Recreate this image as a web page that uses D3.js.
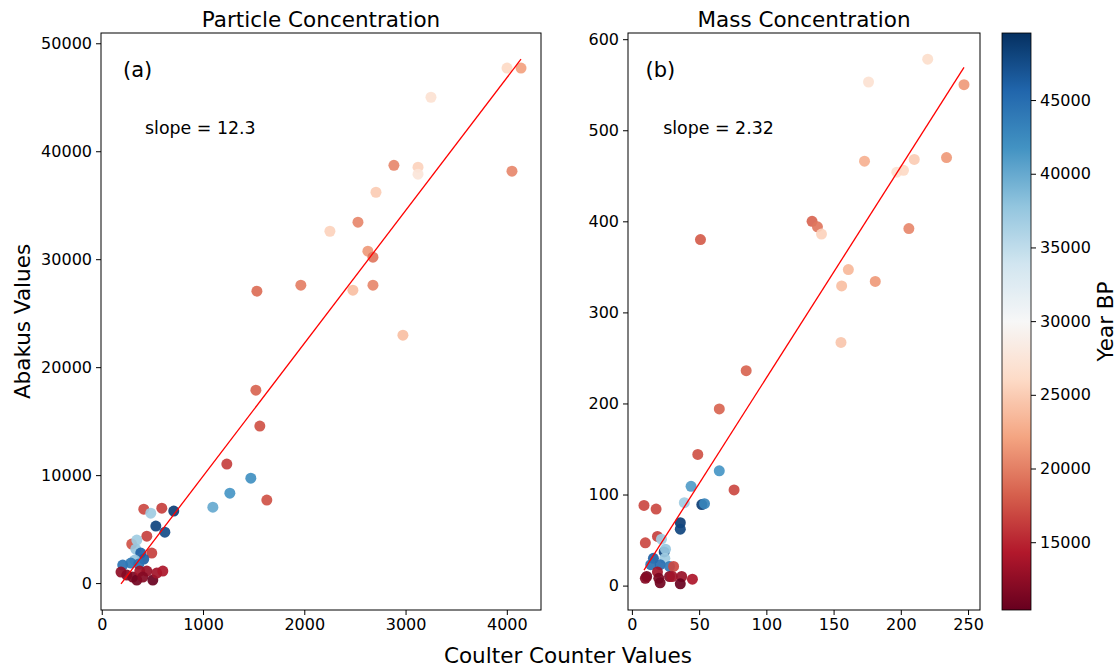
<!DOCTYPE html>
<html>
<head>
<meta charset="utf-8">
<script src="https://cdn.jsdelivr.net/npm/d3@7"></script>
<style>
  html, body { margin: 0; padding: 0; background: #fff; }
  svg { display: block; font-family: "DejaVu Sans", sans-serif; }
</style>
</head>
<body>
<svg id="chart" width="1119" height="671"></svg>
<script>
// Particle concentration: Coulter counter vs Abakus, with sample age (Year BP)
const particleCoulter = [4002, 4140, 3251, 2885, 3123, 3123, 4051, 2708, 2530, 2253, 2628, 2678,
  1532, 1966, 2480, 2678, 2974, 1522, 1561, 1235, 1472, 1265, 1630, 1097, 711, 593, 415, 484,
  534, 623, 445, 296, 346, 336, 385, 494, 415, 326, 207, 287, 366, 190, 247, 306, 346, 375,
  445, 405, 504, 543, 603];
const particleAbakus = [47700, 47700, 45000, 38700, 38520, 37870, 38150, 36200, 33430, 32590, 30740, 30190,
  27040, 27590, 27130, 27590, 22960, 17870, 14540, 11020, 9720, 8330, 7690, 7030, 6670, 6940, 6850, 6480,
  5280, 4720, 4350, 3610, 3980, 3150, 2780, 2780, 2220, 2130, 1670, 1850, 1760, 1020, 740, 560, 280, 1110,
  1110, 560, 280, 930, 1110];
const particleYear = [26000, 22000, 27000, 20500, 25500, 27500, 20500, 25000, 20500, 25500, 21500, 19500,
  19000, 20000, 24000, 20500, 24000, 18500, 17500, 16500, 42000, 41500, 17500, 40000, 48500, 16500, 17000, 37000,
  48000, 47500, 16500, 17500, 37000, 37500, 46000, 16500, 46000, 37500, 44500, 44000, 44500, 12500, 12000, 11500, 11000, 13500,
  13000, 12000, 10500, 13500, 14000];

// Mass concentration
const massCoulter = [220, 176, 247, 173, 197, 202, 210, 234, 134, 138, 141, 206, 51, 161, 156, 181,
  155.5, 85, 65, 49, 65, 44, 76, 9, 18, 39, 52, 54, 36, 36, 19, 10, 22, 24, 25, 24.5, 16, 14, 21,
  28, 31, 11, 10, 19, 20, 21, 28, 30, 37, 36, 45];
const massAbakus = [578, 553, 550, 466, 454, 456, 468, 470, 400, 394, 386, 392, 380, 347, 329, 334,
  267, 236, 194, 144, 126, 109, 105, 88, 84, 91, 89, 90, 69, 62, 54, 47, 51, 37, 40, 30, 30, 23, 23,
  21, 21, 10, 8, 15, 8, 3, 10, 10, 10, 2, 7];
const massYear = [26500, 27000, 21500, 23000, 27000, 26000, 25000, 21500, 18500, 19500, 25500, 20500, 18000, 23500, 24000, 21500,
  24500, 18500, 18500, 17500, 41500, 41000, 17000, 17000, 17000, 37000, 48500, 43000, 48500, 48000, 16500, 17000, 37000, 48000, 37500, 37000, 46000, 44500, 45000,
  44000, 17000, 11000, 12000, 13500, 11500, 11000, 12000, 13500, 13000, 10500, 14000];

// Least-squares fit lines
const fitSlope = [12.3, 2.32];
const fitIntercept = [-2400, -4];
const slopeLabels = ["slope = 12.3", "slope = 2.32"];
const panelLetters = ["(a)", "(b)"];
const panelTitles = ["Particle Concentration", "Mass Concentration"];

const yearRange = [10400, 49550];
const yearTicks = [15000, 20000, 25000, 30000, 35000, 40000, 45000];

const svg = d3.select("#chart");

// RdBu colour map, piecewise linear through the ColorBrewer stops
const rdbu = d3.schemeRdBu[11].slice();
const colorStops = d3.scaleLinear()
  .domain(d3.range(11).map(i => i / 10))
  .range(rdbu)
  .interpolate(d3.interpolateRgb);
const yearNorm = d3.scaleLinear().domain(yearRange).range([0, 1]).clamp(true);
const color = v => colorStops(yearNorm(v));

const plotTop = 33, plotBottom = 610;
const labelSize = 21.5;
const panels = [
  { x0: 101, x1: 541, xs: particleCoulter, ys: particleAbakus, yr: particleYear,
    xTicks: [0, 1000, 2000, 3000, 4000], yTicks: [0, 10000, 20000, 30000, 40000, 50000] },
  { x0: 628, x1: 980, xs: massCoulter, ys: massAbakus, yr: massYear,
    xTicks: [0, 50, 100, 150, 200, 250], yTicks: [0, 100, 200, 300, 400, 500, 600] }
];

panels.forEach((p, i) => {
  const xmin = d3.min(p.xs), xmax = d3.max(p.xs);
  const lineY = [fitSlope[i] * xmin + fitIntercept[i], fitSlope[i] * xmax + fitIntercept[i]];
  const ymin = Math.min(d3.min(p.ys), ...lineY), ymax = Math.max(d3.max(p.ys), ...lineY);
  const mx = (xmax - xmin) * 0.05, my = (ymax - ymin) * 0.05;
  const x = d3.scaleLinear().domain([xmin - mx, xmax + mx]).range([p.x0, p.x1]);
  const y = d3.scaleLinear().domain([ymin - my, ymax + my]).range([plotBottom, plotTop]);
  const w = p.x1 - p.x0;

  const g = svg.append("g");

  // points
  g.append("g").selectAll("circle")
    .data(d3.range(p.xs.length))
    .join("circle")
    .attr("cx", k => x(p.xs[k]))
    .attr("cy", k => y(p.ys[k]))
    .attr("r", 5.5)
    .attr("fill", k => color(p.yr[k]))
    .attr("fill-opacity", 0.92);

  // fit line
  g.append("line")
    .attr("x1", x(xmin)).attr("y1", y(lineY[0]))
    .attr("x2", x(xmax)).attr("y2", y(lineY[1]))
    .attr("stroke", "#ff0000").attr("stroke-width", 1.3);

  // frame
  g.append("rect")
    .attr("x", p.x0).attr("y", plotTop)
    .attr("width", w).attr("height", plotBottom - plotTop)
    .attr("fill", "none").attr("stroke", "#000").attr("stroke-width", 1);

  // axes
  const xa = g.append("g").attr("transform", `translate(0,${plotBottom})`)
    .call(d3.axisBottom(x).tickValues(p.xTicks).tickSize(5).tickPadding(4).tickFormat(d3.format("d")));
  const ya = g.append("g").attr("transform", `translate(${p.x0},0)`)
    .call(d3.axisLeft(y).tickValues(p.yTicks).tickSize(5).tickPadding(4).tickFormat(d3.format("d")));
  [xa, ya].forEach(a => {
    a.select(".domain").remove();
    a.selectAll("text").attr("font-size", 16).attr("fill", "#000").attr("font-family", "DejaVu Sans");
    a.selectAll("line").attr("stroke", "#000");
  });

  // titles and annotations (placed in axes-fraction coordinates)
  g.append("text")
    .attr("x", p.x0 + w / 2).attr("y", 27)
    .attr("text-anchor", "middle").attr("font-size", labelSize)
    .text(panelTitles[i]);
  g.append("text")
    .attr("x", p.x0 + w * 0.05).attr("y", 77)
    .attr("font-size", 21)
    .text(panelLetters[i]);
  g.append("text")
    .attr("x", p.x0 + w * 0.1).attr("y", 134)
    .attr("font-size", 17.4)
    .text(slopeLabels[i]);
});

// shared axis labels
svg.append("text")
  .attr("x", 568).attr("y", 663)
  .attr("text-anchor", "middle").attr("font-size", labelSize)
  .text("Coulter Counter Values");
svg.append("text")
  .attr("transform", `translate(30,${(plotTop + plotBottom) / 2}) rotate(-90)`)
  .attr("text-anchor", "middle").attr("font-size", labelSize)
  .text("Abakus Values");

// colour bar
const cbX = 1002, cbW = 29;
const defs = svg.append("defs");
const grad = defs.append("linearGradient").attr("id", "cbgrad")
  .attr("x1", 0).attr("y1", 1).attr("x2", 0).attr("y2", 0);
d3.range(0, 1.0001, 0.02).forEach(t => {
  grad.append("stop").attr("offset", t).attr("stop-color", colorStops(t));
});
svg.append("rect")
  .attr("x", cbX).attr("y", plotTop).attr("width", cbW).attr("height", plotBottom - plotTop)
  .attr("fill", "url(#cbgrad)");
const cy = d3.scaleLinear().domain(yearRange).range([plotBottom, plotTop]);
const ca = svg.append("g").attr("transform", `translate(${cbX + cbW},0)`)
  .call(d3.axisRight(cy).tickValues(yearTicks).tickSize(5).tickPadding(4).tickFormat(d3.format("d")));
ca.select(".domain").remove();
ca.selectAll("text").attr("font-size", 16).attr("fill", "#000").attr("font-family", "DejaVu Sans");
ca.selectAll("line").attr("stroke", "#000");
svg.append("rect")
  .attr("x", cbX).attr("y", plotTop).attr("width", cbW).attr("height", plotBottom - plotTop)
  .attr("fill", "none").attr("stroke", "#000").attr("stroke-width", 0.8);
svg.append("text")
  .attr("transform", `translate(1113,${(plotTop + plotBottom) / 2}) rotate(-90)`)
  .attr("text-anchor", "middle").attr("font-size", labelSize)
  .text("Year BP");
</script>
</body>
</html>
